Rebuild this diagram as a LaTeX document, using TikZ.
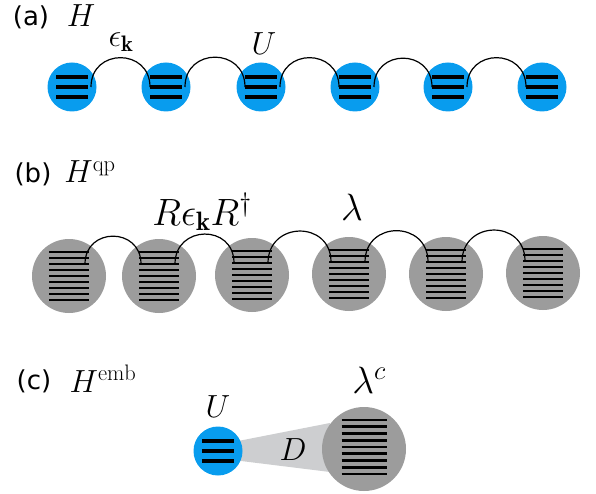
\RequirePackage{fix-cm}
\documentclass[tikz,border=0pt]{standalone}
\usepackage{fontspec}
\usepackage{amsmath}
\usepackage{xcolor}
\usetikzlibrary{calc, backgrounds}
\newfontfamily\panelfont{DejaVu Sans}
\definecolor{siteblue}{RGB}{8, 156, 238}
\definecolor{qpgray}{RGB}{156, 156, 156}
\definecolor{bathgray}{RGB}{205, 206, 208}

\begin{document}
\begin{tikzpicture}[x=1pt, y=1pt,
  site/.style={circle, fill=siteblue, minimum size=49pt, inner sep=0pt},
  qpsite/.style={circle, fill=qpgray, minimum size=74pt, inner sep=0pt},
  level/.style={line width=3.3pt},
  qplevel/.style={line width=2.7pt},
  hop/.style={black, line width=1.2pt},
  panel/.style={font=\panelfont\fontsize{26}{30}\selectfont},
  lab/.style={font=\fontsize{32}{38}\selectfont},
  biglab/.style={font=\fontsize{38}{44}\selectfont}]

  \useasboundingbox (0,0) rectangle (596,-494);

  % Lattice model
  \node[panel] (pa) at (31,-17) {(a)};
  \node[lab] (ha) at (81,-16) {$H$};
  \foreach \i/\x in {1/72, 2/166, 3/261, 4/355, 5/448, 6/542} {
    \node[site] (a\i) at (\x,-87) {};
    \foreach \dy in {-10,0,10}
      \draw[level] (\x-16,{-87+\dy}) -- (\x+16,{-87+\dy});
  }
  \foreach \i/\j in {1/2, 2/3, 3/4, 4/5, 5/6}
    \draw[hop] ([xshift=19pt]a\i.center) to[out=90, in=90, looseness=1.7] ([xshift=-16pt]a\j.center);
  \node[lab] (eps) at (121,-42) {$\epsilon_{\mathbf{k}}$};
  \node[lab] (ua) at (264,-44) {$U$};

  % Quasiparticle model
  \node[panel] (pb) at (33,-174) {(b)};
  \node[lab] (hb) at (90,-172) {$H^{\mathrm{qp}}$};
  \foreach \i/\x/\y in {1/69/276, 2/159/276, 3/252/275, 4/349/274, 5/446/274, 6/543/273} {
    \node[qpsite] (b\i) at (\x,-\y) {};
    \foreach \dy in {-24,-18,...,24}
      \draw[qplevel] (\x-20,{-\y+\dy}) -- (\x+20,{-\y+\dy});
  }
  \foreach \i/\j in {1/2, 2/3, 3/4, 4/5, 5/6}
    \draw[hop] ([xshift=16pt, yshift=12pt]b\i.center) to[out=90, in=90, looseness=1.7] ([xshift=-18pt, yshift=12pt]b\j.center);
  \node[biglab] (reps) at (202,-212) {$R\epsilon_{\mathbf{k}}R^{\dagger}$};
  \node[biglab] (lam) at (352,-207) {$\lambda$};

  % Embedding model
  \node[panel] (pc) at (34,-381) {(c)};
  \node[lab] (hc) at (103,-379) {$H^{\mathrm{emb}}$};
  \node[site] (imp) at (218,-451) {};
  \node[qpsite, minimum size=84pt] (bath) at (364,-449) {};
  \begin{scope}[on background layer]
    \fill[bathgray] ($(imp.center)+(15,9)$) -- ($(bath.center)+(-34,26)$)
      -- ($(bath.center)+(-34,-23)$) -- ($(imp.center)+(15,-9)$) -- cycle;
  \end{scope}
  \foreach \dy in {-10,0,10}
    \draw[level] ($(imp.center)+(-16,\dy)$) -- ($(imp.center)+(16,\dy)$);
  \foreach \k in {0,...,8}
    \draw[qplevel] (341.5,{-420-6.75*\k}) -- (386.5,{-420-6.75*\k});
  \node[lab] (uc) at (218,-407) {$U$};
  \node[biglab] (lamc) at (369,-380) {$\lambda^{c}$};
  \node[lab] (dd) at (293,-450) {$D$};

\end{tikzpicture}
\end{document}
